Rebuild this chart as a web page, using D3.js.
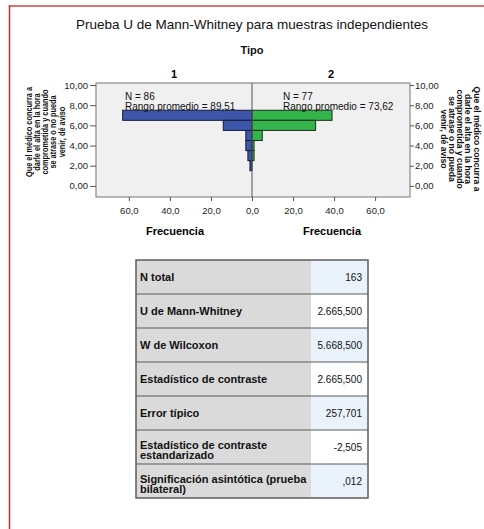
<!DOCTYPE html>
<html><head><meta charset="utf-8">
<script src="https://cdn.jsdelivr.net/npm/d3@7"></script>
<style>body{margin:0;background:#fff}svg{display:block;font-family:Arial,"Liberation Sans",sans-serif}</style>
</head><body><svg id="c" width="484" height="529"></svg>
<script>
const binValues = [7, 6, 5, 4, 3, 2];
const freqGroup1 = [63, 14, 3, 3, 2, 1];
const freqGroup2 = [39, 31, 5, 1, 1, 0];
const groupLabels = ["1", "2"];
const groupN = ["N = 86", "N = 77"];
const groupRank = ["Rango promedio = 89,51", "Rango promedio = 73,62"];
const yTicks = [0, 2, 4, 6, 8, 10];
const xTicksLeft = [0, 20, 40, 60];
const xTicksRight = [20, 40, 60];
const yLabelLines = ["Que el médico concurra a", "darle el alta en la hora", "comprometida y cuando", "se atrase o no pueda", "venir, dé aviso"];
const tableLabels = [["N total"], ["U de Mann-Whitney"], ["W de Wilcoxon"], ["Estadístico de contraste"], ["Error típico"], ["Estadístico de contraste", "estandarizado"], ["Significación asintótica (prueba", "bilateral)"]];
const tableValues = ["163", "2.665,500", "5.668,500", "2.665,500", "257,701", "-2,505", ",012"];

const svg = d3.select("#c");
// frame
svg.append("line").attr("x1",9).attr("x2",484).attr("y1",6).attr("y2",6).attr("stroke","#e07272").attr("stroke-width",2);
svg.append("line").attr("x1",9.5).attr("x2",9.5).attr("y1",5).attr("y2",529).attr("stroke","#cc2a36").attr("stroke-width",1.5);

svg.append("text").attr("x",252).attr("y",29).attr("text-anchor","middle").attr("font-size",13.5).attr("fill","#111").text("Prueba U de Mann-Whitney para muestras independientes");
svg.append("text").attr("x",252).attr("y",54).attr("text-anchor","middle").attr("font-size",11).attr("font-weight","bold").attr("fill","#111").text("Tipo");

const L = 96, R = 410, T = 83, B = 197, C = 252;
const xL = d3.scaleLinear().domain([0, 76]).range([C, L]);
const xR = d3.scaleLinear().domain([0, 77]).range([C, R]);
const y = d3.scaleLinear().domain([-1.1, 10.2]).range([B, T]);

svg.append("rect").attr("x",L).attr("y",T).attr("width",R-L).attr("height",B-T).attr("fill","#f0f0f0").attr("stroke","#8a8a8a").attr("stroke-width",1.2);

// bars
const g = svg.append("g");
g.selectAll("rect.b1").data(binValues.map((v,i)=>({v,f:freqGroup1[i]}))).join("rect")
  .attr("x",d=>xL(d.f)).attr("width",d=>xL(0)-xL(d.f))
  .attr("y",d=>y(d.v+0.5)).attr("height",d=>y(d.v-0.5)-y(d.v+0.5))
  .attr("fill","#3d56aa").attr("stroke","#15193a").attr("stroke-width",1);
g.selectAll("rect.b2").data(binValues.map((v,i)=>({v,f:freqGroup2[i]})).filter(d=>d.f>0)).join("rect")
  .attr("x",xR(0)).attr("width",d=>xR(d.f)-xR(0))
  .attr("y",d=>y(d.v+0.5)).attr("height",d=>y(d.v-0.5)-y(d.v+0.5))
  .attr("fill","#33b54b").attr("stroke","#1a2a1a").attr("stroke-width",1);

svg.append("line").attr("x1",C).attr("x2",C).attr("y1",T).attr("y2",B).attr("stroke","#555").attr("stroke-width",1);

// annotations
[[125, 0],[283, 1]].forEach(([x,i])=>{
  svg.append("text").attr("x",x).attr("y",99.5).attr("font-size",10).attr("fill","#111").text(groupN[i]);
  svg.append("text").attr("x",x).attr("y",109.5).attr("font-size",10).attr("fill","#111").text(groupRank[i]);
});
svg.append("text").attr("x",(L+C)/2).attr("y",78).attr("text-anchor","middle").attr("font-size",11).attr("font-weight","bold").text(groupLabels[0]);
svg.append("text").attr("x",(C+R)/2).attr("y",78).attr("text-anchor","middle").attr("font-size",11).attr("font-weight","bold").text(groupLabels[1]);

const fmtY = v => d3.format(".2f")(v).replace(".", ",");
const fmtX = v => d3.format(".1f")(v).replace(".", ",");

function styleAxis(sel){
  sel.select(".domain").remove();
  sel.selectAll(".tick line").attr("stroke","#555");
  sel.selectAll(".tick text").attr("font-size",9.5).attr("fill","#222").attr("font-family","Arial, Liberation Sans, sans-serif");
}
svg.append("g").attr("transform",`translate(${L},0)`).call(d3.axisLeft(y).tickValues(yTicks).tickSize(6).tickPadding(2).tickFormat(fmtY)).call(styleAxis);
svg.append("g").attr("transform",`translate(${R},0)`).call(d3.axisRight(y).tickValues(yTicks).tickSize(4).tickPadding(1).tickFormat(fmtY)).call(styleAxis);
svg.append("g").attr("transform",`translate(0,${B})`).call(d3.axisBottom(xL).tickValues(xTicksLeft).tickSize(4).tickPadding(6).tickFormat(fmtX)).call(styleAxis);
svg.append("g").attr("transform",`translate(0,${B})`).call(d3.axisBottom(xR).tickValues(xTicksRight).tickSize(4).tickPadding(6).tickFormat(fmtX)).call(styleAxis);

svg.append("text").attr("x",175).attr("y",234.5).attr("text-anchor","middle").attr("font-size",11).attr("font-weight","bold").text("Frecuencia");
svg.append("text").attr("x",332).attr("y",234.5).attr("text-anchor","middle").attr("font-size",11).attr("font-weight","bold").text("Frecuencia");

// rotated y labels (condensed like the original)
function rotLabel(cx, cy, angle, fs, firstLen, baselines){
  const grp = svg.append("g").attr("transform",`translate(${cx},${cy}) rotate(${angle})`);
  const texts = yLabelLines.map((s,i)=>grp.append("text").attr("x",0).attr("y",baselines[i])
      .attr("text-anchor","middle").attr("font-size",fs).attr("font-weight","bold").attr("fill","#111").text(s));
  const k = firstLen / texts[0].node().getComputedTextLength();
  texts.forEach(t=>{ const w = t.node().getComputedTextLength(); t.attr("textLength", w*k).attr("lengthAdjust","spacingAndGlyphs"); });
}
rotLabel(0, 132, -90, 9.2, 90, yLabelLines.map((s,i)=>31.5 + i*8.3));
rotLabel(0, 139, 90, 9.2, 105, yLabelLines.map((s,i)=>-(473.5 - i*8.1)));

// table
const tx0 = 136, tx1 = 311, tx2 = 368, ty0 = 260, rh = 34;
const rows = svg.append("g");
tableLabels.forEach((lab,i)=>{
  const yy = ty0 + i*rh;
  rows.append("rect").attr("x",tx0).attr("y",yy).attr("width",tx1-tx0).attr("height",rh).attr("fill","#dadadb");
  rows.append("rect").attr("x",tx1).attr("y",yy).attr("width",tx2-tx1).attr("height",rh).attr("fill", i%2===0 ? "#eaf3fc" : "#ffffff");
  if (lab.length===1) {
    rows.append("text").attr("x",140).attr("y",yy+rh/2+4).attr("font-size",11).attr("font-weight","bold").attr("fill","#111").text(lab[0]);
  } else {
    rows.append("text").attr("x",140).attr("y",yy+rh/2+1.5).attr("font-size",11).attr("font-weight","bold").attr("fill","#111").text(lab[0]);
    rows.append("text").attr("x",140).attr("y",yy+rh/2+12).attr("font-size",11).attr("font-weight","bold").attr("fill","#111").text(lab[1]);
  }
  rows.append("text").attr("x",362).attr("y",yy+rh/2+3.5).attr("text-anchor","end").attr("font-size",10).attr("fill","#111").text(tableValues[i]);
  if (i>0) rows.append("line").attr("x1",tx0).attr("x2",tx2).attr("y1",yy).attr("y2",yy).attr("stroke","#5a5a5a").attr("stroke-width",1);
});
rows.append("rect").attr("x",tx0).attr("y",ty0).attr("width",tx2-tx0).attr("height",rh*tableLabels.length).attr("fill","none").attr("stroke","#5e5e5e").attr("stroke-width",1.5);
</script></body></html>
